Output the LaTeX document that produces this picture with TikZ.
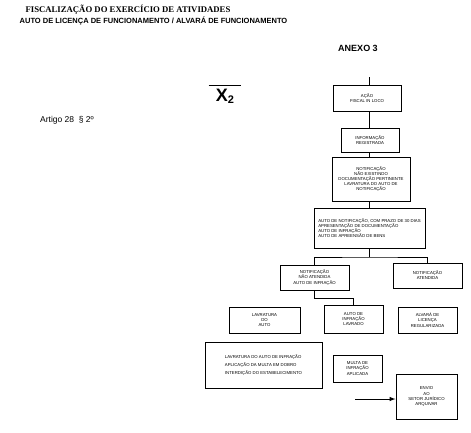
\documentclass[tikz,border=0pt]{standalone}
\usepackage{fontspec}
\setmainfont{Liberation Sans}
\newfontfamily\timesfont{Liberation Serif}

\tikzset{
	flowbox/.style={draw, line width=1pt, align=center, inner sep=1pt, font=\fontsize{4.3}{5.2}\selectfont},
	listbox/.style={flowbox, align=left},
	link/.style={line width=1pt}
}

\begin{document}
\begin{tikzpicture}[x=1pt, y=-1pt]
			\useasboundingbox (0,0) rectangle (471,432);
			%%%%% HEADER %%%%%
			
			\node (title) at (128,10) {\timesfont\bfseries\fontsize{8.7}{9}\selectfont FISCALIZAÇÃO DO EXERCÍCIO DE ATIVIDADES};
			\node (subtitle) at (153.5,21) {\bfseries\fontsize{7.5}{8}\selectfont AUTO DE LICENÇA DE FUNCIONAMENTO / ALVARÁ DE FUNCIONAMENTO};
			\node (anexo) at (358,48) {\bfseries\fontsize{9}{10}\selectfont ANEXO 3};
			\node[inner xsep=7pt, inner ysep=3pt] (xtwo) at (225,96) {\bfseries\fontsize{18}{20}\selectfont X\raisebox{-2pt}{\fontsize{11}{11}\selectfont 2}};
			\draw[line width=0.8pt] (xtwo.north west) -- (xtwo.north east);
			\node (artigo) at (67,120) {\fontsize{8.5}{9}\selectfont Artigo 28~~§ 2º};
			
			%%%%% BOXES %%%%%
			
			\node[flowbox, minimum width=68, minimum height=26] (acao) at (367,98) {AÇÃO\\FISCAL IN LOCO};
			\node[flowbox, minimum width=58, minimum height=24] (info) at (370,140) {INFORMAÇÃO\\REGISTRADA};
			\node[flowbox, minimum width=78, minimum height=44] (notif) at (371,179) {NOTIFICAÇÃO\\NÃO EXISTINDO\\DOCUMENTAÇÃO PERTINENTE\\LAVRATURA DO AUTO DE\\NOTIFICAÇÃO};
			\node[listbox, minimum width=111, minimum height=40] (autos) at (369.5,228) {AUTO DE NOTIFICAÇÃO, COM PRAZO DE 30 DIAS\\APRESENTAÇÃO DE DOCUMENTAÇÃO\\AUTO DE INFRAÇÃO\\AUTO DE APREENSÃO DE BENS};
			
			\node[flowbox, minimum width=69, minimum height=25] (naoatend) at (314.5,277.5) {NOTIFICAÇÃO\\NÃO ATENDIDA\\AUTO DE INFRAÇÃO};
			\node[flowbox, minimum width=69, minimum height=25] (atend) at (427.5,275.5) {NOTIFICAÇÃO\\ATENDIDA};
			
			\node[flowbox, minimum width=71, minimum height=26] (lavra) at (264.5,320) {LAVRATURA\\DO\\AUTO};
			\node[flowbox, minimum width=59, minimum height=28] (infr) at (353.5,319) {AUTO DE\\INFRAÇÃO\\LAVRADO};
			\node[flowbox, minimum width=59, minimum height=26] (alvara) at (427.5,320) {ALVARÁ DE\\LICENÇA\\REGULARIZADA};
			
			\node[listbox, minimum width=117, minimum height=46] (penal) at (263.5,365) {LAVRATURA DO AUTO DE INFRAÇÃO\\[3pt]APLICAÇÃO DA MULTA EM DOBRO\\[3pt]INTERDIÇÃO DO ESTABELECIMENTO};
			\node[flowbox, minimum width=49, minimum height=27] (multa) at (357.5,368.5) {MULTA DE\\INFRAÇÃO\\APLICADA};
			\node[flowbox, minimum width=61, minimum height=45] (arquivar) at (426.5,396.5) {ENVIO\\AO\\SETOR JURÍDICO\\ARQUIVAR};
			
			%%%%% CONNECTORS %%%%%
			
			\coordinate (start) at (369,77);
			\coordinate (split) at (369,257);
			\coordinate (arrfrom) at (355,399);
			
			\draw[link] (start) -- (start |- acao.north);
			\draw[link] (acao.south -| start) -- (info.north -| start);
			\draw[link] (info.south -| start) -- (notif.north -| start);
			\draw[link] (notif.south -| start) -- (autos.north -| start);
			\draw[link] (autos.south -| start) -- (split);
			\draw[link] (naoatend.north) |- (split) -| (atend.north);
			\draw[link] (naoatend.south) -- ++(0,8) -| (infr.north);
			\draw[link, -latex] (arrfrom) -- (arrfrom -| arquivar.west);
		\end{tikzpicture}
\end{document}
